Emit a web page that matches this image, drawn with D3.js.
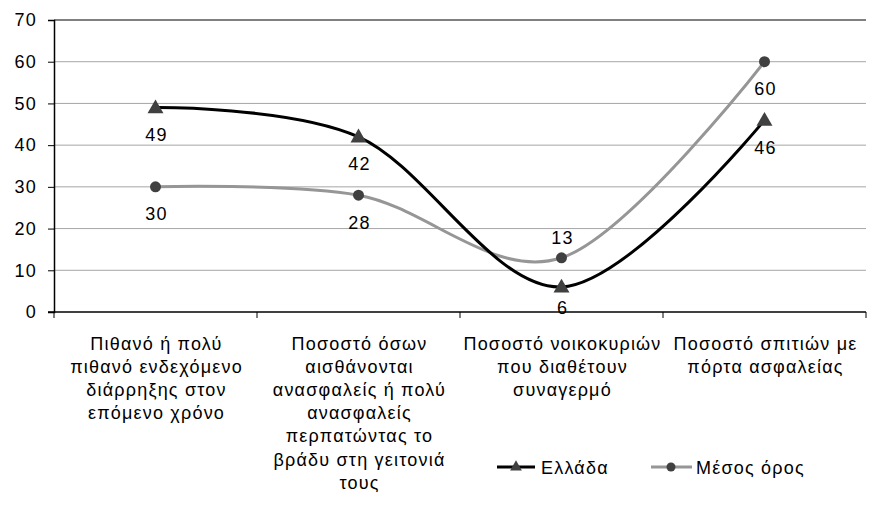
<!DOCTYPE html>
<html><head><meta charset="utf-8">
<script src="https://cdn.jsdelivr.net/npm/d3@7"></script>
<style>body{margin:0;background:#fff;} text{font-family:Arial,"Liberation Sans",sans-serif;letter-spacing:1.2px;}</style>
</head><body>
<svg id="c" width="871" height="511"></svg>
<script>
const categories = [
  ["Πιθανό ή πολύ","πιθανό ενδεχόμενο","διάρρηξης στον","επόμενο χρόνο"],
  ["Ποσοστό όσων","αισθάνονται","ανασφαλείς ή πολύ","ανασφαλείς","περπατώντας το","βράδυ στη γειτονιά","τους"],
  ["Ποσοστό νοικοκυριών","που διαθέτουν","συναγερμό"],
  ["Ποσοστό σπιτιών με","πόρτα ασφαλείας"]
];
const seriesNames = ["Ελλάδα","Μέσος όρος"];
const greece = [49, 42, 6, 46];
const average = [30, 28, 13, 60];
const yTicks = [0,10,20,30,40,50,60,70];

const svg = d3.select("#c");
const L=54, R=866, T=20, B=312;
const FS = 18;
const x = d3.scaleBand().domain(d3.range(categories.length)).range([L,R]);
const y = d3.scaleLinear().domain([0,70]).range([B,T]);
const cx = i => x(i)+x.bandwidth()/2;

// gridlines
svg.append("g").selectAll("line").data(yTicks.filter(t=>t>0)).join("line")
  .attr("x1",L).attr("x2",R).attr("y1",d=>y(d)).attr("y2",d=>y(d))
  .attr("stroke",d=>d===70?"#808080":"#a6a6a6").attr("stroke-width",d=>d===70?2:1);

// y axis
const ya = svg.append("g").attr("transform",`translate(${L},0)`)
  .call(d3.axisLeft(y).tickValues(yTicks).tickSize(6).tickPadding(11));
ya.select(".domain").attr("stroke","#000").attr("stroke-width",1.5);
ya.selectAll(".tick line").attr("stroke","#000");
ya.selectAll("text").attr("font-size",FS).attr("fill","#000").attr("font-family","Arial,'Liberation Sans',sans-serif");

// x axis
const xa = svg.append("g").attr("transform",`translate(0,${B})`);
xa.append("line").attr("x1",L-6).attr("x2",R).attr("stroke","#000").attr("stroke-width",1.5);
xa.selectAll(".t").data(d3.range(categories.length+1)).join("line")
  .attr("x1",i=>L+i*x.bandwidth()).attr("x2",i=>L+i*x.bandwidth()).attr("y1",0).attr("y2",6).attr("stroke","#000");
categories.forEach((lines,i)=>{
  const t = svg.append("text").attr("text-anchor","middle").attr("font-size",FS).attr("fill","#000");
  lines.forEach((ln,j)=>t.append("tspan").attr("x",cx(i)+1).attr("y",350+j*23.1).text(ln));
});

const line = d3.line().x((d,i)=>cx(i)).y(d=>y(d)).curve(d3.curveCardinal.tension(0));

svg.append("path").datum(average).attr("d",line).attr("fill","none").attr("stroke","#969696").attr("stroke-width",3);
svg.append("path").datum(greece).attr("d",line).attr("fill","none").attr("stroke","#000").attr("stroke-width",3);

svg.append("g").selectAll("circle").data(average).join("circle")
  .attr("cx",(d,i)=>cx(i)).attr("cy",d=>y(d)).attr("r",5.5).attr("fill","#404040");
const tri = d3.symbol().type(d3.symbolTriangle).size(110);
svg.append("g").selectAll("path").data(greece).join("path")
  .attr("d",tri).attr("transform",(d,i)=>`translate(${cx(i)},${y(d)+1})`).attr("fill","#404040");

// labels
const avgOff = [27, 27, -20, 27];
const grOff = [27, 27, 21, 27];
svg.append("g").selectAll("text").data(average).join("text")
  .attr("x",(d,i)=>cx(i)+1).attr("y",(d,i)=>y(d)+avgOff[i]+6.5).attr("text-anchor","middle")
  .attr("font-size",FS).text(d=>d);
svg.append("g").selectAll("text").data(greece).join("text")
  .attr("x",(d,i)=>cx(i)+1).attr("y",(d,i)=>y(d)+grOff[i]+6.5).attr("text-anchor","middle")
  .attr("font-size",FS).text(d=>d);

// legend
const lg = svg.append("g");
const ly = 467;
lg.append("line").attr("x1",497).attr("x2",535).attr("y1",ly).attr("y2",ly).attr("stroke","#000").attr("stroke-width",3);
lg.append("path").attr("d",d3.symbol().type(d3.symbolTriangle).size(60)).attr("transform",`translate(516,${ly})`).attr("fill","#404040");
lg.append("text").attr("x",541).attr("y",ly+6.5).attr("font-size",FS).text(seriesNames[0]);
lg.append("line").attr("x1",651).attr("x2",692).attr("y1",ly).attr("y2",ly).attr("stroke","#969696").attr("stroke-width",3);
lg.append("circle").attr("cx",671).attr("cy",ly).attr("r",4.5).attr("fill","#404040");
lg.append("text").attr("x",696).attr("y",ly+6.5).attr("font-size",FS).text(seriesNames[1]);
</script>
</body></html>
